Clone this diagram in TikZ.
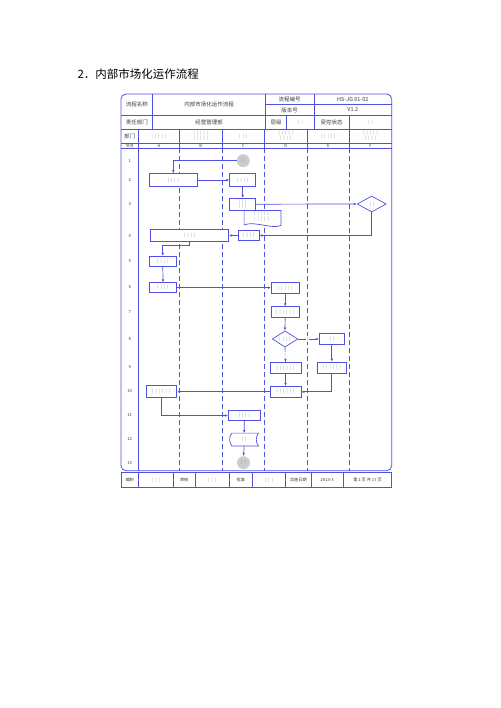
\documentclass[tikz,border=0pt]{standalone}
\usepackage{fontspec}
\setmainfont{Noto Sans CJK SC}
\newfontfamily\barfont[WordSpace=2.5]{Noto Sans CJK SC}
\usepackage{xcolor}
\usetikzlibrary{shapes.geometric,arrows.meta}

\definecolor{lineblue}{RGB}{80,80,225}
\definecolor{bargray}{RGB}{140,140,140}
\definecolor{startgray}{RGB}{205,205,205}
\definecolor{celltext}{RGB}{60,60,60}

\tikzset{
  tline/.style={draw=lineblue, line width=0.6pt},
  hcell/.style={inner sep=0pt, text=celltext, font=\fontsize{5.5}{6.5}\selectfont},
  hsmall/.style={inner sep=0pt, text=celltext, font=\fontsize{4.2}{5}\selectfont},
  hbars/.style={inner sep=0pt, text=bargray, align=center, font={\barfont\fontsize{4}{5.2}\selectfont}},
  proc/.style={draw=lineblue, line width=0.7pt, fill=white, inner sep=0pt, align=center,
    text=bargray, font={\barfont\fontsize{4}{5.2}\selectfont}},
  decide/.style={proc, diamond, aspect=1.7},
  startend/.style={circle, fill=startgray, inner sep=0pt, minimum size=13pt,
    text=bargray!80!black, font={\barfont\fontsize{4}{5}\selectfont}},
  conn/.style={draw=lineblue, line width=0.7pt, -{Latex[length=3pt,width=2.6pt]}},
  yn/.style={inner sep=0.6pt, fill=white, text=bargray, font=\fontsize{4}{5}\selectfont}
}

\begin{document}
\begin{tikzpicture}[x=1pt,y=-1pt]
\useasboundingbox (0,0) rectangle (500,708);

\node[anchor=west, font=\fontsize{11.5}{13}\selectfont] (title) at (74,74) {2．内部市场化运作流程};

% frame and header grid
\draw[lineblue, line width=0.8pt, rounded corners=5pt] (121,94) rectangle (391.7,470.7);
\draw[tline] (265.3,104.3) -- (391.7,104.3);
\foreach \y in {115.7,129,143.3,148.3} \draw[tline] (121,\y) -- (391.7,\y);
\foreach \x in {152.7,265.3,314} \draw[tline] (\x,94) -- (\x,115.7);
\foreach \x in {152.7,265.3,286.7,314,349.3} \draw[tline] (\x,115.7) -- (\x,129);
\foreach \x in {138.3,179.3,222.3,264.3,307.3,349.3} \draw[tline] (\x,129) -- (\x,148.3);
\draw[tline] (138.3,148.3) -- (138.3,470.7);
\foreach \x in {179.3,222.3,264.3,307.3,349.3}
  \draw[tline, dash pattern=on 5pt off 3pt] (\x,148.3) -- (\x,470.7);

% header texts
\node[hcell] (hname) at (136.9,104.9) {流程名称};
\node[hcell] (hnamev) at (209,104.9) {内部市场化运作流程};
\node[hcell] (hcode) at (289.7,99.2) {流程编号};
\node[hcell] (hcodev) at (352.8,99.2) {HS-JG 01-02};
\node[hcell] (hver) at (289.7,110) {版本号};
\node[hcell] (hverv) at (352.8,110) {V1.2};
\node[hcell] (hdept) at (136.9,122.4) {责任部门};
\node[hcell] (hdeptv) at (209,122.4) {经营管理部};
\node[hcell] (hlevel) at (276,122.4) {层级};
\node[hbars] (hlevelv) at (300.4,122.4) {| |};
\node[hcell] (hctrl) at (331.7,122.4) {受控状态};
\node[hbars] (hctrlv) at (370.5,122.4) {| |};
\node[hcell] (hunit) at (129.7,136.2) {部门};
\node[hbars] (unitA) at (158.8,136.2) {| | | | |};
\node[hbars] (unitB) at (200.8,136.2) {| | | | |\\| | | | |};
\node[hbars] (unitC) at (243.3,136.2) {| | |};
\node[hbars] (unitD) at (285.8,136.2) {| | | | |\\| | | |};
\node[hbars] (unitE) at (328.3,136.2) {| | | | |};
\node[hbars] (unitF) at (370.5,136.2) {| | | | |\\| | | |};
\node[hsmall] (hnode) at (129.7,145.8) {节点};
\foreach \l/\x in {A/158.8,B/200.8,C/243.3,D/285.8,E/328.3,F/370.5}
  \node[hsmall] (lane\l) at (\x,145.8) {\l};

% row numbers
\foreach \n/\y in {1/160.7,2/180.4,3/203.9,4/235.7,5/261.3,6/287.3,7/312,8/339.4,9/367.3,10/391.3,11/415.3,12/438.8,13/462.7}
  \node[hsmall] (row\n) at (129.7,\y) {\n};

% flow nodes
\node[startend] (s1) at (243.3,160.7) {| |};
\node[proc, minimum width=48pt, minimum height=12.6pt] (a2) at (173.3,180) {| | | |};
\node[proc, minimum width=26pt, minimum height=12.6pt] (c2) at (242.7,180) {| | | |};
\node[inner sep=0pt, minimum width=36.4pt, minimum height=12.6pt] (c3doc) at (262.5,217) {};
\draw[lineblue, line width=0.7pt, fill=white] (c3doc.north west) -- (c3doc.north east) -- ([yshift=-2pt]c3doc.south east)
  .. controls ([xshift=-9pt,yshift=-6pt]c3doc.south east) and ([xshift=10pt,yshift=3pt]c3doc.south west) .. ([yshift=-1.5pt]c3doc.south west) -- cycle;
\node[hbars] (c3doct) at (261.5,216.3) {| | | | |\\| | | | |};
\node[proc, minimum width=26pt, minimum height=11.7pt] (c3) at (242.7,204.2) {| | |\\| | |};
\node[decide, minimum width=29pt, minimum height=16pt] (f3) at (371.7,204) {| |};
\node[proc, minimum width=20.7pt, minimum height=10.4pt] (c4) at (248.7,235.5) {| | | |};
\node[proc, minimum width=78pt, minimum height=12pt] (a4) at (189.7,235.3) {| | | |};
\node[proc, minimum width=27pt, minimum height=10.4pt] (a5) at (162.8,261.5) {| | | |};
\node[proc, minimum width=27.4pt, minimum height=10pt] (a6) at (163,287.7) {| | | |};
\node[proc, minimum width=27.7pt, minimum height=11pt] (d6) at (285.2,288.2) {| | | | |};
\node[proc, minimum width=28.3pt, minimum height=10.6pt] (d7) at (285.2,312) {| | | | | |};
\node[decide, minimum width=25.4pt, minimum height=16.3pt] (d8) at (285,339) {| | | |};
\node[proc, minimum width=25pt, minimum height=10.6pt] (e8) at (331.8,339) {| |};
\node[proc, minimum width=31pt, minimum height=10.6pt] (d9) at (285.5,368) {| | | | | |};
\node[proc, minimum width=29pt, minimum height=11.3pt] (e9) at (331.8,367.7) {| | | | | |};
\node[proc, minimum width=31pt, minimum height=11pt] (d10) at (285.5,391.8) {| | | | | |};
\node[proc, minimum width=30.7pt, minimum height=11.6pt] (a10) at (161.3,391.5) {| | | | | |};
\node[proc, minimum width=32pt, minimum height=10.4pt] (c11) at (244.3,415.5) {| | | |};
\node[hbars, minimum width=28.3pt, minimum height=12.4pt] (c12) at (244.2,439.5) {| |};
\draw[lineblue, line width=0.7pt] ([xshift=2pt]c12.north west) -- (c12.north east)
  .. controls ([xshift=-3pt,yshift=-3pt]c12.north east) and ([xshift=-3pt,yshift=3pt]c12.south east) .. (c12.south east)
  -- ([xshift=2pt]c12.south west)
  .. controls ([xshift=-1pt,yshift=3pt]c12.south west) and ([xshift=-1pt,yshift=-3pt]c12.north west) .. ([xshift=2pt]c12.north west);
\node[startend] (s13) at (243.5,462.7) {| |};

% connectors
\draw[conn] (s1.west) -| (a2.north);
\draw[conn] (a2.east) -- (c2.west);
\draw[conn] (c2.south) -- (c3.north);
\draw[conn] (c3.east) -- (f3.west);
\draw[conn] (f3.south) |- (c4.east);
\draw[conn] (c4.west) -- (c4.west -| a4.east);
\draw[conn] (a4.south) -- ++(0,4.2) -| (a5.north);
\draw[conn] (a5.south) -- (a6.north);
\draw[conn] (a6.east) -- (a6.east -| d6.west);
\draw[conn] (d6.south) -- (d7.north);
\draw[conn] (d7.south) -- (d8.north);
\draw[conn] (d8.east) -- node[yn, pos=0.45] (d8yes) {|} (e8.west);
\draw[conn] (d8.south) -- node[yn, pos=0.5] (d8no) {|} (d9.north);
\draw[conn] (e8.south) -- (e9.north);
\draw[conn] (d9.south) -- (d10.north);
\draw[conn] (e9.south) |- (d10.east);
\draw[conn] (d10.west) -- (d10.west -| a10.east);
\draw[conn] (a10.south) |- (c11.west);
\draw[conn] (c11.south) -- (c12.north);
\draw[conn] (c12.south) -- (s13.north);

% footer
\draw[tline] (121,472.7) rectangle (391.7,487.3);
\foreach \x in {138.3,173.3,195,229,252.3,285.7,311,343.3} \draw[tline] (\x,472.7) -- (\x,487.3);
\node[hsmall] (fmake) at (129.7,480) {编制};
\node[hbars] (fmakev) at (155.8,480) {| | |};
\node[hsmall] (fcheck) at (184.2,480) {审核};
\node[hbars] (fcheckv) at (212,480) {| | |};
\node[hsmall] (fappr) at (240.7,480) {批准};
\node[hbars] (fapprv) at (269,480) {| | |};
\node[hsmall] (fdate) at (298.4,480) {实施日期};
\node[hsmall] (fdatev) at (327.2,480) {2013-3};
\node[hsmall] (fpage) at (367.5,480) {第 2 页 共 17 页};
\end{tikzpicture}
\end{document}
